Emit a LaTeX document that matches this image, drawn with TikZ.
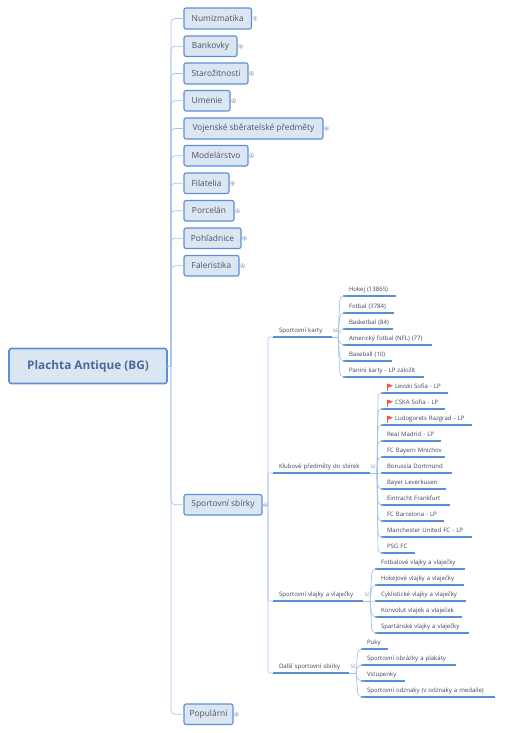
\documentclass[tikz,border=0pt]{standalone}
\usepackage{fontspec}
\setmainfont{Open Sans}
\definecolor{boxfill}{HTML}{DCE6F2}
\definecolor{boxline}{HTML}{5B8FD6}
\definecolor{connblue}{HTML}{A9C3EA}
\definecolor{underblue}{HTML}{5A8FD6}
\definecolor{txt}{HTML}{4A5568}
\definecolor{leaftxt}{HTML}{3C4650}
\definecolor{roottxt}{HTML}{4A6A9A}
\definecolor{icongrey}{HTML}{B8BCC4}
\definecolor{flagred}{HTML}{F0504A}
\tikzset{
  topbox/.style={draw=boxline,fill=boxfill,line width=1.1pt,rounded corners=2pt,anchor=north west,inner sep=0pt,outer sep=0pt,text=txt,font=\fontsize{8.4}{10}\selectfont},
  rootbox/.style={draw=boxline,fill=boxfill,line width=1.6pt,rounded corners=2.5pt,inner sep=0pt,outer sep=0pt,text=roottxt,font=\fontsize{11.8}{14}\selectfont\bfseries},
  leaftext/.style={anchor=south west,inner ysep=1pt,inner xsep=6pt,outer sep=0pt,align=left,text=leaftxt,minimum height=13pt,font=\fontsize{6.05}{8}\selectfont},
  conline/.style={draw=connblue,line width=0.7pt},
  underst/.style={draw=underblue,line width=1.1pt},
  iconl/.style={draw=icongrey,line width=0.4pt}
}
\newcommand{\topb}[5]{% name, right x, y0, y1, text
  \pgfmathsetmacro{\bw}{#2-184}\pgfmathsetmacro{\bh}{#4-#3}
  \node[topbox,minimum width=\bw pt,minimum height=\bh pt] (#1) at (184,#3) {#5};
  \draw[conline,rounded corners=4pt] (trunk) |- (#1.west);
}
\newcommand{\exicon}[3]{% x y plus?
  \draw[iconl] (#1,#2) circle[radius=2.2pt];
  \draw[iconl] (#1-1.3,#2) -- (#1+1.3,#2);
  \ifnum#3=1 \draw[iconl] (#1,#2-1.3) -- (#1,#2+1.3);\fi
}
\newcommand{\plusicon}[1]{%
  \path (#1.east) ++(3.5,0) coordinate (#1ic);
  \draw[iconl] (#1ic) circle[radius=2.2pt];
  \draw[iconl] ([xshift=-1.3pt]#1ic) -- ([xshift=1.3pt]#1ic);
  \draw[iconl] ([yshift=-1.3pt]#1ic) -- ([yshift=1.3pt]#1ic);
}
\newcommand{\leafn}[5]{% name x0 x1 ybase text
  \pgfmathsetmacro{\tw}{#3-#2-12}
  \node[leaftext,text width=\tw pt] (#1) at (#2,#4) {\mbox{#5}};
  \draw[underst] (#1.south west) -- (#1.south east);
}
\newcommand{\child}[6]{% hub name x0 x1 ybase text
  \leafn{#2}{#3}{#4}{#5}{#6}
  \draw[conline,rounded corners=4pt] (#1) -- ([xshift=-3pt]#2.south west) -- (#2.south west);
}
\newcommand{\flagat}[1]{%
  \draw[draw=flagred!70!gray,line width=0.5pt] ([xshift=6.2pt,yshift=2pt]#1.south west) -- ([xshift=6.2pt,yshift=9.5pt]#1.south west);
  \fill[flagred] ([xshift=6.4pt,yshift=9.5pt]#1.south west) -- ([xshift=12pt,yshift=7.3pt]#1.south west) -- ([xshift=6.4pt,yshift=5pt]#1.south west) -- cycle;
}
\begin{document}
\begin{tikzpicture}[x=1pt,y=-1pt]
\useasboundingbox (0,0) rectangle (504,733);
\node[rootbox,minimum width=158pt,minimum height=35pt,anchor=north west] (root) at (9,348.5) {Plachta Antique (BG)};
\coordinate (trunk) at (171,366);
\draw[conline] (root.east) -- (trunk);
\topb{num}{251.5}{8}{29}{Numizmatika}\plusicon{num}
\topb{ban}{237}{36}{56.5}{Bankovky}\plusicon{ban}
\topb{sta}{248}{63}{84}{Starožitnosti}\plusicon{sta}
\topb{ume}{230}{90.5}{111}{Umenie}\plusicon{ume}
\topb{voj}{323}{118}{139}{Vojenské sběratelské předměty}\plusicon{voj}
\topb{mod}{248}{145.5}{166}{Modelárstvo}\plusicon{mod}
\topb{fil}{229}{173}{193.5}{Filatelia}\plusicon{fil}
\topb{por}{234}{200.5}{221}{Porcelán}\plusicon{por}
\topb{poh}{241}{228}{248.5}{Pohľadnice}\plusicon{poh}
\topb{fal}{239}{255.5}{276}{Faleristika}\plusicon{fal}
\topb{spo}{262}{494.5}{515}{Sportovní sbírky}
\exicon{265.5}{505}{1}
\topb{pop}{233}{704}{724.5}{Populární}\plusicon{pop}
% second level
\coordinate (t2) at (268,505);
\draw[conline] (spo.east) -- (t2);
\leafn{kar}{273}{332}{337}{Sportovní karty}
\leafn{klu}{273}{370}{473}{Klubové předměty do sbírek}
\leafn{vla}{273}{363}{601}{Sportovní vlajky a vlaječky}
\leafn{dal}{273}{349}{673}{Další sportovní sbírky}
\foreach \n in {kar,klu,vla,dal}{\draw[conline,rounded corners=1pt] (t2) |- (\n.south west);}
\exicon{335.5}{330}{0}\exicon{373}{466}{0}\exicon{367}{594}{0}\exicon{353}{666}{0}
% hubs
\coordinate (hk) at (338,337);\draw[conline] (kar.south east) -- (hk);
\coordinate (hl) at (377,473);\draw[conline] (klu.south east) -- (hl);
\coordinate (hv) at (370,601);\draw[conline] (vla.south east) -- (hv);
\coordinate (hd) at (356,673);\draw[conline] (dal.south east) -- (hd);
% sportovni karty
\child{hk}{a1}{343}{396}{296}{Hokej (13865)}
\child{hk}{a2}{343}{394}{313}{Fotbal (3784)}
\child{hk}{a3}{343}{393}{329}{Basketbal (84)}
\child{hk}{a4}{343}{432}{345}{Americký fotbal (NFL) (77)}
\child{hk}{a5}{343}{392}{361}{Baseball (10)}
\child{hk}{a6}{343}{424}{377}{Panini karty - LP založit}
% klubove
\child{hl}{b1}{381}{448}{393}{\hspace{8pt}Levski Sofia - LP}\flagat{b1}
\child{hl}{b2}{381}{445}{409}{\hspace{8pt}CSKA Sofia - LP}\flagat{b2}
\child{hl}{b3}{381}{472}{425}{\hspace{8pt}Ludogorets Razgrad - LP}\flagat{b3}
\child{hl}{b4}{381}{441}{441}{Real Madrid - LP}
\child{hl}{b5}{381}{445}{457}{FC Bayern Mnichov}
\child{hl}{b6}{381}{452}{473}{Borussia Dortmund}
\child{hl}{b7}{381}{446}{489}{Bayer Leverkusen}
\child{hl}{b8}{381}{450}{505}{Eintracht Frankfurt}
\child{hl}{b9}{381}{444}{521}{FC Barcelona - LP}
\child{hl}{b10}{381}{472}{537}{Manchester United FC - LP}
\child{hl}{b11}{381}{415}{553}{PSG FC}
% vlajky
\child{hv}{c1}{375}{465}{569}{Fotbalové vlajky a vlaječky}
\child{hv}{c2}{375}{464}{585}{Hokejové vlajky a vlaječky}
\child{hv}{c3}{375}{466}{601}{Cyklistické vlajky a vlaječky}
\child{hv}{c4}{375}{462}{617}{Konvolut vlajek a vlaječek}
\child{hv}{c5}{375}{469}{633}{Spartánské vlajky a vlaječky}
% dalsi
\child{hd}{d1}{361}{388}{649}{Puky}
\child{hd}{d2}{361}{456}{665}{Sportovní obrázky a plakáty}
\child{hd}{d3}{361}{405}{681}{Vstupenky}
\child{hd}{d4}{361}{495}{697}{Sportovní odznaky (v odznaky a medaile)}
\end{tikzpicture}
\end{document}
